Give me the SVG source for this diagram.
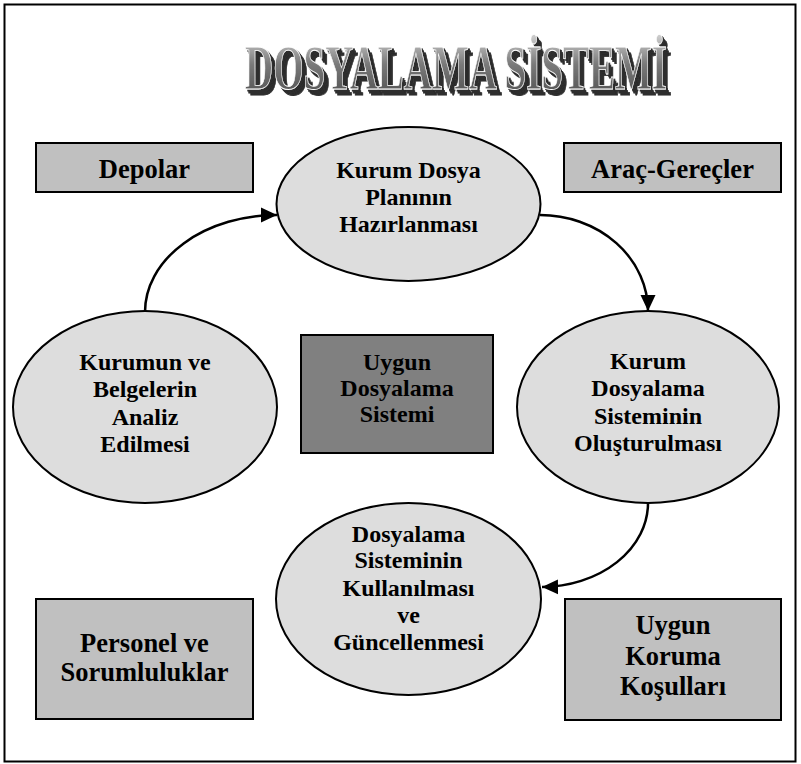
<svg xmlns="http://www.w3.org/2000/svg" width="801" height="764" viewBox="0 0 801 764">
  <style>
    .frame { fill: #ffffff; stroke: #000000; stroke-width: 2; }
    .oval { fill: #dddddd; stroke: #000000; stroke-width: 2; }
    .box { fill: #c0c0c0; stroke: #000000; stroke-width: 2; }
    .core { fill: #808080; stroke: #000000; stroke-width: 2; }
    .lbl { font-family: "Liberation Serif", "Times New Roman", serif; font-weight: bold; font-size: 24px; fill: #000000; text-anchor: middle; }
    .big { font-size: 26.5px; }
    .flow { fill: none; stroke: #000000; stroke-width: 2.5; }
    .title { font-family: "Liberation Serif", "Times New Roman", serif; font-weight: bold; font-size: 64px; }
  </style>
  <defs>
    <marker id="head" markerUnits="userSpaceOnUse" markerWidth="17" markerHeight="17" refX="16" refY="8.5" orient="auto" viewBox="0 0 17 17">
      <path d="M0,1 L16,8.5 L0,16 Z" fill="#000000"/>
    </marker>
    <linearGradient id="face" x1="0" y1="0" x2="0" y2="1">
      <stop offset="0" stop-color="#d8d8d8"/>
      <stop offset="0.45" stop-color="#7a7a7a"/>
      <stop offset="1" stop-color="#4a4a4a"/>
    </linearGradient>
    <!-- dark stacked copies under the lettering give the extruded look -->
    <filter id="extrude" filterUnits="userSpaceOnUse" x="220" y="20" width="480" height="95">
      <feFlood flood-color="#2e2e2e" result="ink"/>
      <feComposite in="ink" in2="SourceAlpha" operator="in" result="dark"/>
      <feOffset in="dark" dx="1.5" dy="2" result="o1"/>
      <feOffset in="dark" dx="3" dy="4" result="o2"/>
      <feOffset in="dark" dx="4.5" dy="6" result="o3"/>
      <feMerge>
        <feMergeNode in="o3"/>
        <feMergeNode in="o2"/>
        <feMergeNode in="o1"/>
        <feMergeNode in="SourceGraphic"/>
      </feMerge>
    </filter>
  </defs>

  <!-- page frame -->
  <rect class="frame" x="4.5" y="4.5" width="791" height="757"/>

  <!-- heading -->
  <g id="title">
    <text class="title" x="245" y="89" textLength="422" lengthAdjust="spacingAndGlyphs" fill="url(#face)" stroke="#ffffff" stroke-width="0.8" filter="url(#extrude)">DOSYALAMA SİSTEMİ</text>
  </g>

  <!-- connectors -->
  <g id="connectors">
    <path class="flow" d="M145,312 A132,97 0 0 1 277,215" marker-end="url(#head)"/>
    <path class="flow" d="M540,215 A108,96 0 0 1 648,311" marker-end="url(#head)"/>
    <path class="flow" d="M648,503 A107,84 0 0 1 542,587" marker-end="url(#head)"/>
  </g>

  <!-- corner boxes -->
  <g id="depolar">
    <rect class="box" x="36" y="143" width="217" height="49"/>
    <text class="lbl big" x="144.5" y="178">Depolar</text>
  </g>
  <g id="arac-gerecler">
    <rect class="box" x="564" y="143" width="217" height="49"/>
    <text class="lbl big" x="672.5" y="178">Araç-Gereçler</text>
  </g>
  <g id="personel">
    <rect class="box" x="36" y="599" width="217" height="120"/>
    <text class="lbl big" x="144.5" y="652">Personel ve</text>
    <text class="lbl big" x="144.5" y="681">Sorumluluklar</text>
  </g>
  <g id="koruma">
    <rect class="box" x="565" y="599" width="216" height="121"/>
    <text class="lbl big" x="673" y="634">Uygun</text>
    <text class="lbl big" x="673" y="665">Koruma</text>
    <text class="lbl big" x="673" y="695">Koşulları</text>
  </g>

  <!-- centre box -->
  <g id="uygun-sistem">
    <rect class="core" x="301" y="335" width="192" height="118"/>
    <text class="lbl" x="397" y="370">Uygun</text>
    <text class="lbl" x="397" y="396">Dosyalama</text>
    <text class="lbl" x="397" y="422">Sistemi</text>
  </g>

  <!-- cycle steps -->
  <g id="plan">
    <ellipse class="oval" cx="408.5" cy="204" rx="132" ry="77"/>
    <text class="lbl" x="408.5" y="178">Kurum Dosya</text>
    <text class="lbl" x="408.5" y="205">Planının</text>
    <text class="lbl" x="408.5" y="232">Hazırlanması</text>
  </g>
  <g id="olusturma">
    <ellipse class="oval" cx="648" cy="407" rx="131" ry="96"/>
    <text class="lbl" x="648" y="369">Kurum</text>
    <text class="lbl" x="648" y="396">Dosyalama</text>
    <text class="lbl" x="648" y="424">Sisteminin</text>
    <text class="lbl" x="648" y="451">Oluşturulması</text>
  </g>
  <g id="kullanim">
    <ellipse class="oval" cx="408.5" cy="599" rx="132.5" ry="96"/>
    <text class="lbl" x="408.5" y="542">Dosyalama</text>
    <text class="lbl" x="408.5" y="568">Sisteminin</text>
    <text class="lbl" x="408.5" y="596">Kullanılması</text>
    <text class="lbl" x="408.5" y="623">ve</text>
    <text class="lbl" x="408.5" y="650">Güncellenmesi</text>
  </g>
  <g id="analiz">
    <ellipse class="oval" cx="145" cy="407" rx="132" ry="96"/>
    <text class="lbl" x="145" y="370">Kurumun ve</text>
    <text class="lbl" x="145" y="397">Belgelerin</text>
    <text class="lbl" x="145" y="425">Analiz</text>
    <text class="lbl" x="145" y="452">Edilmesi</text>
  </g>
</svg>
